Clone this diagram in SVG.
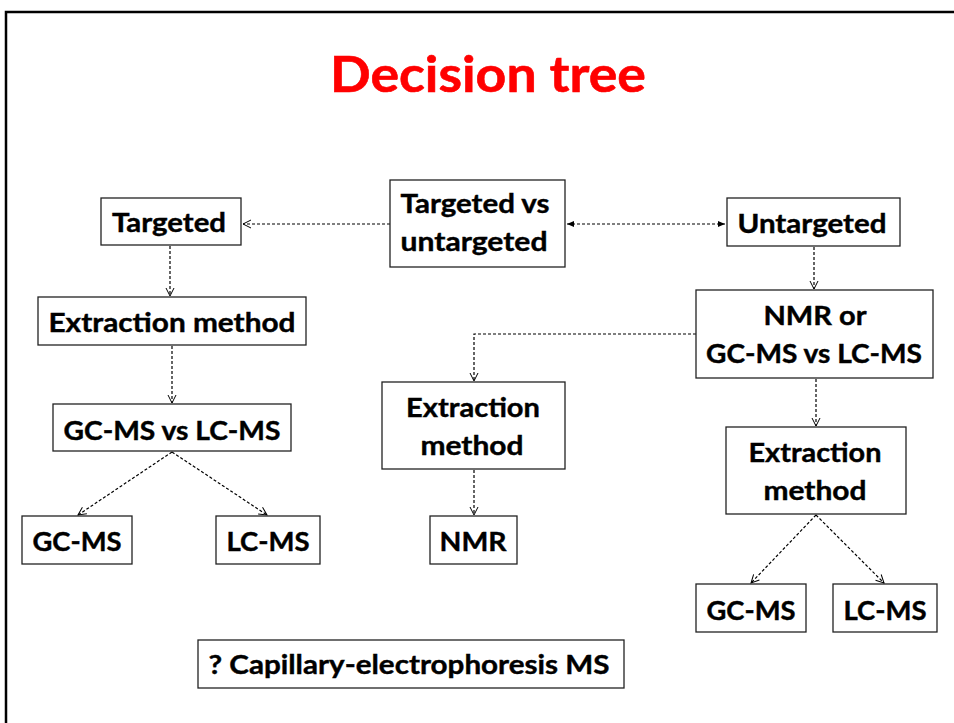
<svg xmlns="http://www.w3.org/2000/svg" width="954" height="723" viewBox="0 0 954 723">
<style>
.box{fill:#fff;stroke:#222;stroke-width:1.3}
.t{font-family:Lato,"Liberation Sans",sans-serif;font-weight:bold;font-size:26px;fill:#000;stroke:#000;stroke-width:0.4;text-anchor:middle}
.c{fill:none;stroke:#000;stroke-width:1.2;stroke-dasharray:3,2}
</style>
<defs>
<marker id="open" markerWidth="10" markerHeight="10" refX="9" refY="5" orient="auto" markerUnits="userSpaceOnUse">
<path d="M1,1 L9,5 L1,9" fill="none" stroke="#000" stroke-width="1"/>
</marker>
<marker id="fill" markerWidth="8" markerHeight="8" refX="7" refY="4" orient="auto-start-reverse" markerUnits="userSpaceOnUse">
<path d="M0,1 L7,4 L0,7 Z" fill="#000"/>
</marker>
</defs>
<rect width="954" height="723" fill="#fff"/>
<path d="M6,723 V12 H954" fill="none" stroke="#000" stroke-width="2.5"/>
<text x="488" y="92" font-family="Lato,'Liberation Sans',sans-serif" font-weight="bold" font-size="50" fill="#ff0000" stroke="#ff0000" stroke-width="0.6" text-anchor="middle" textLength="316" lengthAdjust="spacingAndGlyphs">Decision tree</text>

<g id="connectors">
<path class="c" d="M390,224 H243" marker-end="url(#open)"/>
<path class="c" d="M567,224 H725" marker-start="url(#fill)" marker-end="url(#fill)"/>
<path class="c" d="M170,246 V296" marker-end="url(#open)"/>
<path class="c" d="M172,346 V403" marker-end="url(#open)"/>
<path class="c" d="M172,452 L78,515" marker-end="url(#open)"/>
<path class="c" d="M172,452 L267,515" marker-end="url(#open)"/>
<path class="c" d="M814,247 V289" marker-end="url(#open)"/>
<path class="c" d="M696,334 H474 V381" marker-end="url(#open)"/>
<path class="c" d="M474,470 V515" marker-end="url(#open)"/>
<path class="c" d="M816,379 V426" marker-end="url(#open)"/>
<path class="c" d="M816,515 L751,583" marker-end="url(#open)"/>
<path class="c" d="M816,515 L884,583" marker-end="url(#open)"/>
</g>

<g id="n-tvu"><rect class="box" x="390" y="180" width="175" height="87"/><text class="t" x="475" y="213" textLength="149" lengthAdjust="spacingAndGlyphs">Targeted vs</text><text class="t" x="474" y="251" textLength="147" lengthAdjust="spacingAndGlyphs">untargeted</text></g>
<g id="n-targeted"><rect class="box" x="101" y="198" width="140" height="47"/><text class="t" x="169" y="232" textLength="114" lengthAdjust="spacingAndGlyphs">Targeted</text></g>
<g id="n-untargeted"><rect class="box" x="727" y="198" width="173" height="48"/><text class="t" x="812" y="233" textLength="149" lengthAdjust="spacingAndGlyphs">Untargeted</text></g>
<g id="n-ext1"><rect class="box" x="38" y="297" width="268" height="48"/><text class="t" x="172" y="332" textLength="247" lengthAdjust="spacingAndGlyphs">Extraction method</text></g>
<g id="n-gclc1"><rect class="box" x="53" y="404" width="238" height="47"/><text class="t" x="172" y="440" textLength="217" lengthAdjust="spacingAndGlyphs">GC-MS vs LC-MS</text></g>
<g id="n-gc1"><rect class="box" x="22" y="516" width="110" height="48"/><text class="t" x="77" y="551" textLength="89" lengthAdjust="spacingAndGlyphs">GC-MS</text></g>
<g id="n-lc1"><rect class="box" x="216" y="516" width="104" height="48"/><text class="t" x="268" y="551" textLength="83" lengthAdjust="spacingAndGlyphs">LC-MS</text></g>
<g id="n-nmror"><rect class="box" x="696" y="290" width="237" height="88"/><text class="t" x="815" y="325" textLength="103" lengthAdjust="spacingAndGlyphs">NMR or</text><text class="t" x="814" y="363" textLength="216" lengthAdjust="spacingAndGlyphs">GC-MS vs LC-MS</text></g>
<g id="n-ext2"><rect class="box" x="382" y="382" width="183" height="87"/><text class="t" x="473" y="417" textLength="134" lengthAdjust="spacingAndGlyphs">Extraction</text><text class="t" x="472" y="455" textLength="103" lengthAdjust="spacingAndGlyphs">method</text></g>
<g id="n-nmr"><rect class="box" x="430" y="516" width="87" height="48"/><text class="t" x="473" y="551" textLength="67" lengthAdjust="spacingAndGlyphs">NMR</text></g>
<g id="n-ext3"><rect class="box" x="726" y="427" width="180" height="87"/><text class="t" x="815" y="462" textLength="133" lengthAdjust="spacingAndGlyphs">Extraction</text><text class="t" x="815" y="500" textLength="103" lengthAdjust="spacingAndGlyphs">method</text></g>
<g id="n-gc2"><rect class="box" x="696" y="584" width="110" height="48"/><text class="t" x="751" y="620" textLength="89" lengthAdjust="spacingAndGlyphs">GC-MS</text></g>
<g id="n-lc2"><rect class="box" x="833" y="584" width="104" height="48"/><text class="t" x="885" y="620" textLength="83" lengthAdjust="spacingAndGlyphs">LC-MS</text></g>
<g id="n-ce"><rect class="box" x="198" y="640" width="426" height="48"/><text class="t" x="409" y="674" textLength="401" lengthAdjust="spacingAndGlyphs">? Capillary-electrophoresis MS</text></g>
</svg>
